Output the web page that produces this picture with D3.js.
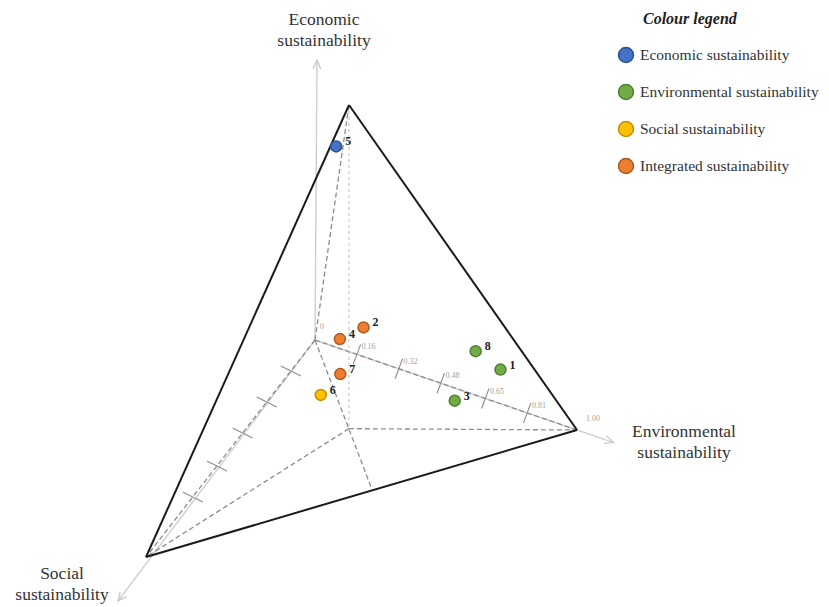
<!DOCTYPE html>
<html>
<head>
<meta charset="utf-8">
<script src="https://cdn.jsdelivr.net/npm/d3@7"></script>
<style>
  body { margin: 0; background: #fff; }
  svg text { font-family: "Liberation Serif", "Times New Roman", serif; }
</style>
</head>
<body>
<div id="chart"></div>
<script>
// Sustainability profile of each case
const ids = ["1", "2", "3", "4", "5", "6", "7", "8"];
const envValues = [0.74, 0.22, 0.59, 0.14, 0.00, 0.20, 0.21, 0.64];
const socValues = [0.10, 0.10, 0.10, 0.10, 0.05, 0.30, 0.20, 0.10];
const ecoValues = [0.25, 0.23, 0.06, 0.15, 0.87, 0.12, 0.12, 0.29];
const groups = ["Environmental", "Integrated", "Environmental", "Integrated", "Economic", "Social", "Integrated", "Environmental"];

// Legend
const legendNames = ["Economic", "Environmental", "Social", "Integrated"];
const legendLabels = ["Economic sustainability", "Environmental sustainability", "Social sustainability", "Integrated sustainability"];

// Tick labels
const envTicks = [0.16, 0.32, 0.48, 0.65, 0.81];
const socTicks = [0.16, 0.32, 0.48, 0.65, 0.81];

const width = 829, height = 607;
const origin = [315, 340];

// Oblique projection: each axis gets an x and a y scale
const envX = d3.scaleLinear().domain([0, 1]).range([0, 262]);
const envY = d3.scaleLinear().domain([0, 1]).range([0, 90]);
const socX = d3.scaleLinear().domain([0, 1]).range([0, -169]);
const socY = d3.scaleLinear().domain([0, 1]).range([0, 217]);
const ecoX = d3.scaleLinear().domain([0, 1]).range([0, 34]);
const ecoY = d3.scaleLinear().domain([0, 1]).range([0, -235]);
// social ticks are spaced a bit tighter than the edge
const socTickScale = d3.scaleLinear().domain([0, 1.12]).range([0, 1]);

function project(env, soc, eco) {
    return [origin[0] + envX(env) + socX(soc) + ecoX(eco),
            origin[1] + envY(env) + socY(soc) + ecoY(eco)];
}

const color = d3.scaleOrdinal()
    .domain(legendNames)
    .range(["#4472c4", "#70ad47", "#ffc000", "#ed7d31"]);
const strokeColor = d3.scaleOrdinal()
    .domain(legendNames)
    .range(["#2f528f", "#507e32", "#bf9000", "#ae5a21"]);

const svg = d3.select("#chart").append("svg")
    .attr("width", width)
    .attr("height", height);

svg.append("defs").append("marker")
    .attr("id", "arrow")
    .attr("viewBox", "0 0 10 10")
    .attr("refX", 9).attr("refY", 5)
    .attr("markerWidth", 7).attr("markerHeight", 7)
    .attr("orient", "auto")
    .append("path")
    .attr("d", "M0,1 L9,5 L0,9")
    .attr("fill", "none")
    .attr("stroke", "#c8c8c8")
    .attr("stroke-width", 1.3);

const O = project(0, 0, 0);
const R = project(1, 0, 0);
const S = project(0, 1, 0);
const A = project(0, 0, 1);
const F = project(0.31, 0.28, 0);      // foot of the apex on the base
const M = project(0.525, 0.475, 0);    // where O->F meets the front edge

const line = d3.line();

// Light axis arrows
const axisEnds = [[O[0] + 2, 60], project(1.14, 0, 0), [118, 601]];
axisEnds.forEach(end => {
    svg.append("path")
        .attr("d", line([O, end]))
        .attr("stroke", "#cfcfcf")
        .attr("stroke-width", 1.4)
        .attr("fill", "none")
        .attr("marker-end", "url(#arrow)");
});

// Hidden edges (dashed)
const dashed = [[O, A], [O, R], [O, S], [F, R], [F, S], [O, M]];
dashed.forEach(seg => {
    svg.append("path")
        .attr("d", line(seg))
        .attr("stroke", "#8c8c8c")
        .attr("stroke-width", 1.3)
        .attr("stroke-dasharray", "5,3")
        .attr("fill", "none");
});
svg.append("path")
    .attr("d", line([A, F]))
    .attr("stroke", "#bdbdbd")
    .attr("stroke-width", 1)
    .attr("stroke-dasharray", "3,3")
    .attr("fill", "none");

// Visible edges
[[A, R], [A, S], [R, S]].forEach(seg => {
    svg.append("path")
        .attr("d", line(seg))
        .attr("stroke", "#1a1a1a")
        .attr("stroke-width", 2)
        .attr("fill", "none");
});

// Environmental axis ticks
envTicks.forEach(t => {
    const p = project(t, 0, 0);
    const a = [p[0] - 3.7, p[1] + 10], b = [p[0] + 3.7, p[1] - 10];
    svg.append("path").attr("d", line([a, b]))
        .attr("stroke", "#8c8c8c").attr("stroke-width", 1.1);
    svg.append("text")
        .attr("x", b[0] + 1).attr("y", b[1] + 5)
        .attr("font-size", 8).attr("fill", "#a0a0a0")
        .text(t.toFixed(2));
});
svg.append("text")
    .attr("x", R[0] + 9).attr("y", R[1] - 9)
    .attr("font-size", 8).attr("fill", "#a0a0a0")
    .text("1.00");
svg.append("text")
    .attr("x", O[0] + 5).attr("y", O[1] - 11)
    .attr("font-size", 8).attr("fill", "#a0a0a0")
    .text("0");

// Social axis ticks
socTicks.forEach(t => {
    const p = project(0, socTickScale(t), 0);
    const a = [p[0] - 10, p[1] - 5], b = [p[0] + 10, p[1] + 5];
    svg.append("path").attr("d", line([a, b]))
        .attr("stroke", "#8c8c8c").attr("stroke-width", 1.1);
});

// Points
const pts = ids.map((id, i) => ({
    id: id,
    group: groups[i],
    pos: project(envValues[i], socValues[i], ecoValues[i])
}));

svg.selectAll(".pt")
    .data(pts)
    .enter().append("circle")
    .attr("class", "pt")
    .attr("cx", d => d.pos[0])
    .attr("cy", d => d.pos[1])
    .attr("r", 5.5)
    .attr("fill", d => color(d.group))
    .attr("stroke", d => strokeColor(d.group))
    .attr("stroke-width", 1.5);

svg.selectAll(".pt-label")
    .data(pts)
    .enter().append("text")
    .attr("class", "pt-label")
    .attr("x", d => d.pos[0] + 9)
    .attr("y", d => d.pos[1] - 1)
    .attr("font-size", 12)
    .attr("font-weight", "bold")
    .attr("fill", "#222")
    .text(d => d.id);

// Axis titles
const titles = [
    { x: 324, y: 25, lines: ["Economic", "sustainability"] },
    { x: 684, y: 437, lines: ["Environmental", "sustainability"] },
    { x: 62, y: 579, lines: ["Social", "sustainability"] }
];
titles.forEach(t => {
    t.lines.forEach((s, j) => {
        svg.append("text")
            .attr("x", t.x).attr("y", t.y + j * 21)
            .attr("text-anchor", "middle")
            .attr("font-size", 17.5)
            .attr("fill", "#333")
            .text(s);
    });
});

// Legend
svg.append("text")
    .attr("x", 643).attr("y", 24)
    .attr("font-size", 16)
    .attr("font-weight", "bold")
    .attr("font-style", "italic")
    .attr("fill", "#222")
    .text("Colour legend");

const legendY = d3.scalePoint().domain(legendNames).range([55, 166]);
const legend = svg.selectAll(".legend-item")
    .data(legendNames)
    .enter().append("g")
    .attr("class", "legend-item")
    .attr("transform", d => `translate(626,${legendY(d)})`);
legend.append("circle")
    .attr("r", 7.5)
    .attr("fill", d => color(d))
    .attr("stroke", d => strokeColor(d))
    .attr("stroke-width", 1.5);
legend.append("text")
    .attr("x", 14).attr("y", 5)
    .attr("font-size", 15.5)
    .attr("fill", "#333")
    .text((d, i) => legendLabels[i]);
</script>
</body>
</html>
